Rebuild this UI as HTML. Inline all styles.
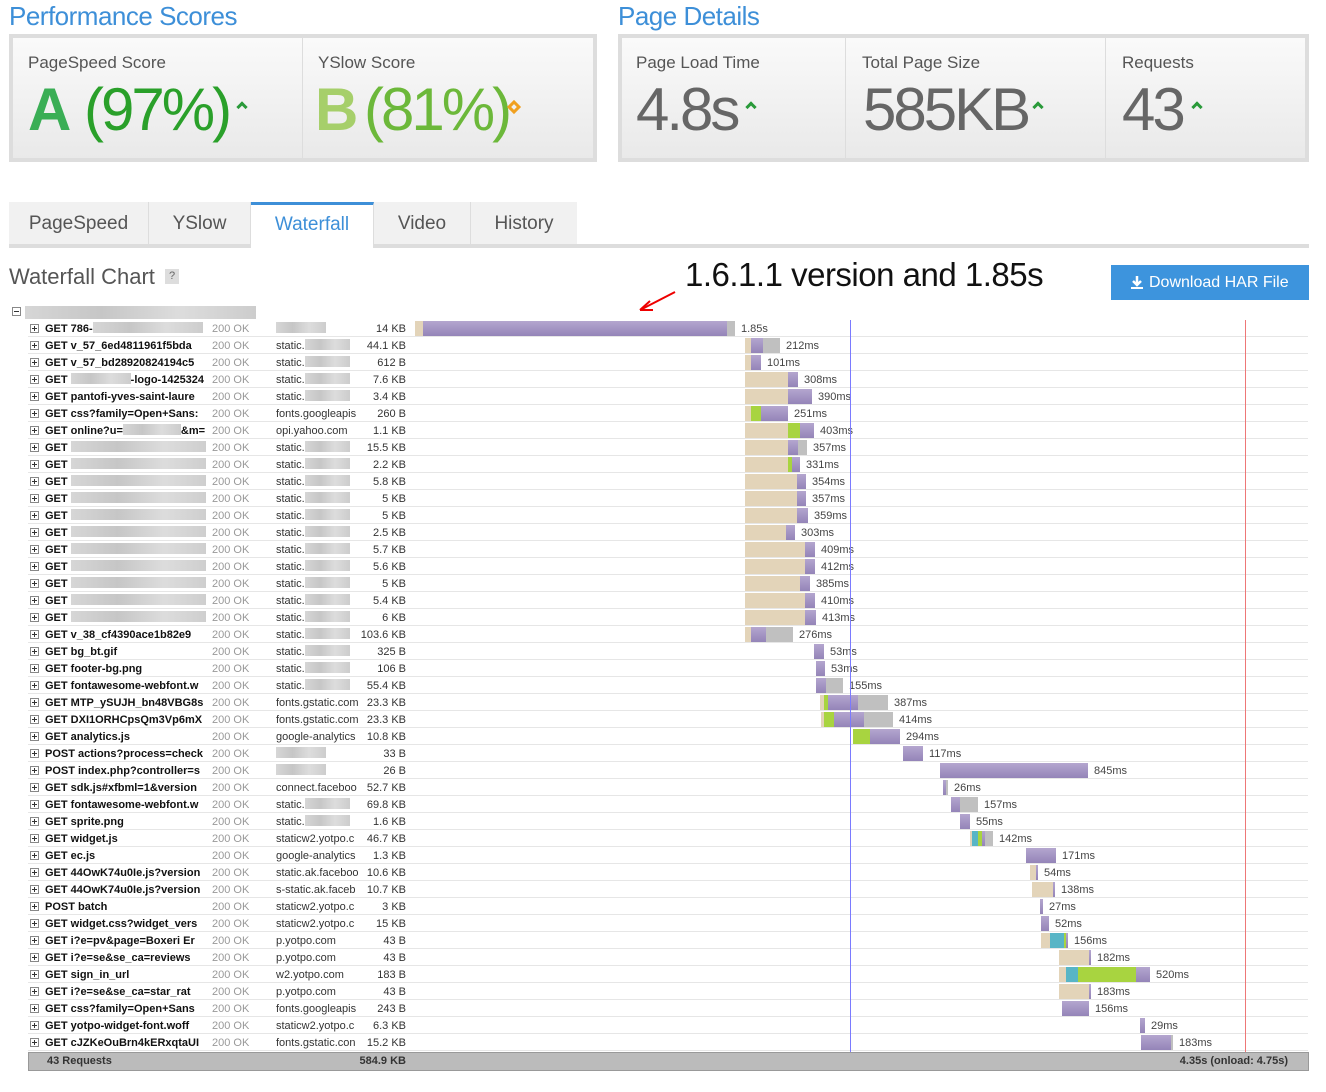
<!DOCTYPE html>
<html><head><meta charset="utf-8">
<style>
*{margin:0;padding:0;box-sizing:border-box}
body{width:1326px;height:1092px;background:#fff;font-family:"Liberation Sans",sans-serif;position:relative;overflow:hidden;color:#333}
.abs{position:absolute}
.h1{font-size:26px;color:#3d8fd8;letter-spacing:-0.5px}
.box{position:absolute;border:4px solid #ddd;background:linear-gradient(#fafafa,#e9e9e9)}
.lbl{position:absolute;font-size:17px;color:#555}
.big{position:absolute;font-size:60px;line-height:60px;letter-spacing:-3px}
.chev{position:absolute;width:8px;height:8px;border-left:3px solid #2a9a3a;border-top:3px solid #2a9a3a;transform:rotate(45deg)}
.tab{position:absolute;top:202px;height:42px;background:#f1f1f1;font-size:19px;color:#555;text-align:center;line-height:44px;border-right:1px solid #ddd}
.row{position:absolute;left:28px;width:1280px;height:17px;border-bottom:1px solid #e6e6e6;font-size:11px;line-height:18px}
.pl{position:absolute;left:2px;top:4px;width:9px;height:9px;border:1px solid #888;background:#fff}
.pl:before{content:"";position:absolute;left:1px;top:3px;width:5px;height:1px;background:#333}
.pl:after{content:"";position:absolute;left:3px;top:1px;width:1px;height:5px;background:#333}
.nm{position:absolute;left:17px;width:161px;overflow:hidden;white-space:nowrap;font-weight:bold;color:#111}
.st{position:absolute;left:184px;color:#999}
.dm{position:absolute;left:248px;width:82px;overflow:hidden;white-space:nowrap;color:#333}
.sz{position:absolute;left:320px;width:58px;text-align:right;color:#333}
.bl{display:inline-block;height:11px;vertical-align:-1px;background:linear-gradient(90deg,#ccc,#b8b8b8,#d4d4d4,#c0c0c0);opacity:.8}
.seg{position:absolute;top:1px;height:15px}
.t{background:#e3d4b9}.g{background:#a8d440}.c{background:#58b5c6}.p{background:linear-gradient(#b4a6cf,#9484b8)}.y{background:#c0c0c0}
.ms{position:absolute;top:0;color:#444;font-size:11px}
</style></head><body>
<div class="abs h1" style="left:9px;top:1px">Performance Scores</div>
<div class="abs h1" style="left:618px;top:1px">Page Details</div>
<div class="box" style="left:9px;top:34px;width:588px;height:128px"></div>
<div class="abs" style="left:302px;top:38px;width:1px;height:120px;background:#ddd"></div>
<div class="lbl" style="left:28px;top:53px">PageSpeed Score</div>
<div class="lbl" style="left:318px;top:53px">YSlow Score</div>
<div class="big" style="left:28px;top:80px;color:#3aae55;font-weight:bold">A</div>
<div class="big" style="left:84px;top:80px;color:#2aa02a">(97%)</div>
<div class="chev" style="left:238px;top:103px"></div>
<div class="big" style="left:315px;top:80px;color:#a6cf6a;font-weight:bold">B</div>
<div class="big" style="left:364px;top:80px;color:#6cb83a">(81%)</div>
<div class="abs" style="left:509px;top:102px;width:10px;height:10px;border:3px solid #f0a020;transform:rotate(45deg)"></div>
<div class="box" style="left:618px;top:34px;width:691px;height:128px"></div>
<div class="abs" style="left:845px;top:38px;width:1px;height:120px;background:#ddd"></div>
<div class="abs" style="left:1105px;top:38px;width:1px;height:120px;background:#ddd"></div>
<div class="lbl" style="left:636px;top:53px">Page Load Time</div>
<div class="lbl" style="left:862px;top:53px">Total Page Size</div>
<div class="lbl" style="left:1122px;top:53px">Requests</div>
<div class="big" style="left:636px;top:80px;color:#666">4.8s</div>
<div class="big" style="left:863px;top:80px;color:#666">585KB</div>
<div class="big" style="left:1122px;top:80px;color:#666">43</div>
<div class="chev" style="left:747px;top:103px"></div>
<div class="chev" style="left:1034px;top:103px"></div>
<div class="chev" style="left:1193px;top:103px"></div>

<div class="abs" style="left:9px;top:244px;width:1300px;height:4px;background:#ddd"></div>
<div class="tab" style="left:9px;width:140px">PageSpeed</div>
<div class="tab" style="left:149px;width:102px">YSlow</div>
<div class="tab" style="left:251px;width:123px;background:#fff;border-top:3px solid #3d8fd8;height:46px;line-height:40px;color:#3d8fd8">Waterfall</div>
<div class="tab" style="left:374px;width:97px">Video</div>
<div class="tab" style="left:471px;width:106px;border-right:none">History</div>

<div class="abs" style="left:9px;top:264px;font-size:22px;color:#555">Waterfall Chart</div>
<div class="abs" style="left:165px;top:269px;width:14px;height:15px;background:#ddd;color:#666;font-size:11px;text-align:center;line-height:15px">?</div>
<div class="abs" style="left:685px;top:256px;font-size:33px;color:#111;letter-spacing:-0.5px">1.6.1.1 version and 1.85s</div>
<svg class="abs" style="left:630px;top:288px" width="50" height="28"><line x1="45" y1="4" x2="12" y2="21" stroke="#e00" stroke-width="2"/><path d="M10 22 L20 13 M10 22 L23 22" stroke="#e00" stroke-width="2" fill="none"/></svg>
<div class="abs" style="left:1111px;top:265px;width:198px;height:35px;background:#3d94dd;color:#fff;font-size:16px;line-height:35px;padding-left:38px">Download HAR File</div>
<svg class="abs" style="left:1130px;top:275px" width="14" height="15"><path d="M7 1 V10 M3 6 L7 10 L11 6" stroke="#fff" stroke-width="2.5" fill="none"/><rect x="1" y="12" width="12" height="2" fill="#fff"/></svg>

<div class="abs" style="left:12px;top:307px;width:9px;height:9px;border:1px solid #888"><div style="position:absolute;left:1px;top:3px;width:5px;height:1px;background:#333"></div></div>
<div class="abs bl" style="left:25px;top:306px;width:231px;height:13px"></div>

<div id="rows"></div>
<div class="abs" style="left:850px;top:320px;width:1px;height:732px;background:#7a7aff"></div>
<div class="abs" style="left:1245px;top:320px;width:1px;height:732px;background:#e77"></div>
<div class="abs" style="left:28px;top:1052px;width:1281px;height:19px;background:#bbb;border:1px solid #999;font-size:11px;font-weight:bold;color:#333;line-height:17px">
<span style="position:absolute;left:18px">43 Requests</span>
<span style="position:absolute;left:300px;width:77px;text-align:right">584.9 KB</span>
<span style="position:absolute;right:20px">4.35s (onload: 4.75s)</span></div>

<script>
(function(){
function bl(w){return '<span class="bl" style="width:'+w+'px"></span>';}
var names=["GET 786-"+bl(110),"GET v_57_6ed4811961f5bda","GET v_57_bd28920824194c5","GET "+bl(60)+"-logo-1425324","GET pantofi-yves-saint-laure","GET css?family=Open+Sans:","GET online?u="+bl(58)+"&amp;m="];
for(var i=7;i<18;i++)names.push("GET "+bl(140));
names=names.concat(["GET v_38_cf4390ace1b82e9","GET bg_bt.gif","GET footer-bg.png","GET fontawesome-webfont.w","GET MTP_ySUJH_bn48VBG8s","GET DXI1ORHCpsQm3Vp6mX","GET analytics.js","POST actions?process=check","POST index.php?controller=s","GET sdk.js#xfbml=1&amp;version","GET fontawesome-webfont.w","GET sprite.png","GET widget.js","GET ec.js","GET 44OwK74u0Ie.js?version","GET 44OwK74u0Ie.js?version","POST batch","GET widget.css?widget_vers","GET i?e=pv&amp;page=Boxeri Er","GET i?e=se&amp;se_ca=reviews","GET sign_in_url","GET i?e=se&amp;se_ca=star_rat","GET css?family=Open+Sans","GET yotpo-widget-font.woff","GET cJZKeOuBrn4kERxqtaUI"]);
var S="static."+bl(45);
var doms=[bl(50),S,S,S,S,"fonts.googleapis","opi.yahoo.com"];
for(i=7;i<22;i++)doms.push(S);
doms=doms.concat(["fonts.gstatic.com","fonts.gstatic.com","google-analytics",bl(50),bl(50),"connect.faceboo",S,S,"staticw2.yotpo.c","google-analytics","static.ak.faceboo","s-static.ak.faceb","staticw2.yotpo.c","staticw2.yotpo.c","p.yotpo.com","p.yotpo.com","w2.yotpo.com","p.yotpo.com","fonts.googleapis","staticw2.yotpo.c","fonts.gstatic.con"]);
var sizes="14 KB,44.1 KB,612 B,7.6 KB,3.4 KB,260 B,1.1 KB,15.5 KB,2.2 KB,5.8 KB,5 KB,5 KB,2.5 KB,5.7 KB,5.6 KB,5 KB,5.4 KB,6 KB,103.6 KB,325 B,106 B,55.4 KB,23.3 KB,23.3 KB,10.8 KB,33 B,26 B,52.7 KB,69.8 KB,1.6 KB,46.7 KB,1.3 KB,10.6 KB,10.7 KB,3 KB,15 KB,43 B,43 B,183 B,43 B,243 B,6.3 KB,15.2 KB".split(",");
var bars=[
[[415,'t'],[423,'p'],[727,'y'],[735],"1.85s"],
[[745,'t'],[751,'p'],[763,'y'],[780],"212ms"],
[[745,'t'],[751,'p'],[761],"101ms"],
[[745,'t'],[788,'p'],[798],"308ms"],
[[745,'t'],[788,'p'],[812],"390ms"],
[[745,'t'],[751,'g'],[761,'p'],[788],"251ms"],
[[745,'t'],[788,'g'],[800,'p'],[814],"403ms"],
[[745,'t'],[788,'p'],[798,'y'],[807],"357ms"],
[[745,'t'],[788,'g'],[792,'p'],[800],"331ms"],
[[745,'t'],[797,'p'],[806],"354ms"],
[[745,'t'],[797,'p'],[806],"357ms"],
[[745,'t'],[797,'p'],[808],"359ms"],
[[745,'t'],[786,'p'],[795],"303ms"],
[[745,'t'],[805,'p'],[815],"409ms"],
[[745,'t'],[805,'p'],[815],"412ms"],
[[745,'t'],[800,'p'],[810],"385ms"],
[[745,'t'],[805,'p'],[815],"410ms"],
[[745,'t'],[805,'p'],[816],"413ms"],
[[745,'t'],[751,'p'],[766,'y'],[793],"276ms"],
[[814,'p'],[824],"53ms"],
[[816,'p'],[825],"53ms"],
[[816,'p'],[826,'y'],[843],"155ms"],
[[820,'t'],[824,'g'],[828,'p'],[858,'y'],[888],"387ms"],
[[821,'t'],[824,'g'],[834,'p'],[864,'y'],[893],"414ms"],
[[853,'g'],[870,'p'],[900],"294ms"],
[[903,'p'],[923],"117ms"],
[[940,'p'],[1088],"845ms"],
[[943,'p'],[946,'y'],[948],"26ms"],
[[951,'p'],[960,'y'],[978],"157ms"],
[[960,'p'],[970],"55ms"],
[[970,'t'],[972,'c'],[978,'g'],[982,'p'],[985,'y'],[993],"142ms"],
[[1026,'p'],[1056],"171ms"],
[[1030,'t'],[1036,'p'],[1038],"54ms"],
[[1032,'t'],[1053,'p'],[1055],"138ms"],
[[1040,'p'],[1043],"27ms"],
[[1041,'p'],[1049],"52ms"],
[[1041,'t'],[1050,'c'],[1064,'g'],[1066,'p'],[1068],"156ms"],
[[1059,'t'],[1089,'p'],[1091],"182ms"],
[[1059,'t'],[1066,'c'],[1078,'g'],[1136,'p'],[1150],"520ms"],
[[1059,'t'],[1089,'p'],[1091],"183ms"],
[[1062,'p'],[1089],"156ms"],
[[1140,'p'],[1145],"29ms"],
[[1141,'p'],[1171,'y'],[1173],"183ms"]];
var h='';
for(i=0;i<43;i++){
 var ty=320+17*i;
 h+='<div class="row" style="top:'+ty+'px"><div class="pl"></div><div class="nm">'+names[i]+'</div><div class="st">200 OK</div><div class="dm">'+doms[i]+'</div><div class="sz">'+sizes[i]+'</div>';
 var b=bars[i];
 for(var k=0;k<b.length-2;k++){h+='<div class="seg '+b[k][1]+'" style="left:'+(b[k][0]-28)+'px;width:'+(b[k+1][0]-b[k][0])+'px"></div>';}
 h+='<div class="ms" style="left:'+(b[b.length-2][0]-28+6)+'px">'+b[b.length-1]+'</div></div>';
}
document.getElementById('rows').innerHTML=h;
})();
</script>
</body></html>
